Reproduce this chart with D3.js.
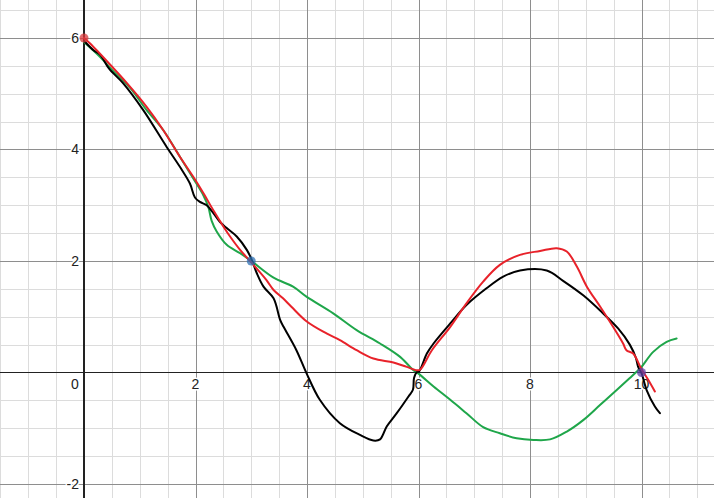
<!DOCTYPE html>
<html>
<head>
<meta charset="utf-8">
<script src="https://cdn.jsdelivr.net/npm/d3@7/dist/d3.min.js"></script>
<style>
html,body{margin:0;padding:0;background:#fff;}
svg{display:block;}
</style>
</head>
<body>
<svg id="chart" width="714" height="498"></svg>
<script>
// ---- data ----
const xTicks = [0, 2, 4, 6, 8, 10];
const yTicks = [-2, 2, 4, 6];
const tickLabelsX = ["0", "2", "4", "6", "8", "10"];
const tickLabelsY = ["-2", "2", "4", "6"];

const blackX = [0, 0.17, 0.29, 0.45, 0.70, 1.06, 1.48, 1.72, 1.90, 1.99, 2.08, 2.20, 2.32, 2.44, 2.56, 2.74, 2.92, 3.01, 3.10, 3.22, 3.40, 3.52, 3.58, 3.81, 3.99, 4.23, 4.59, 4.95, 5.19, 5.31, 5.43, 5.61, 5.82, 5.90, 5.92, 5.97, 6.01, 6.15, 6.27, 6.57, 6.86, 7.22, 7.52, 7.82, 8.30, 8.60, 8.96, 9.29, 9.58, 9.79, 9.90, 9.94, 10.0, 10.09, 10.24, 10.33];
const blackY = [5.95, 5.78, 5.70, 5.45, 5.19, 4.71, 4.05, 3.69, 3.39, 3.14, 3.06, 3.00, 2.86, 2.70, 2.59, 2.44, 2.20, 2.02, 1.78, 1.54, 1.33, 0.94, 0.82, 0.40, -0.01, -0.49, -0.91, -1.12, -1.22, -1.20, -0.97, -0.73, -0.43, -0.31, -0.10, 0.01, 0.02, 0.34, 0.52, 0.88, 1.21, 1.51, 1.72, 1.83, 1.83, 1.64, 1.38, 1.08, 0.79, 0.50, 0.26, 0.10, -0.01, -0.31, -0.61, -0.73];

const redX = [0, 0.11, 0.47, 0.77, 1.12, 1.42, 1.72, 1.96, 2.14, 2.32, 2.50, 2.62, 2.80, 3.04, 3.27, 3.40, 3.57, 3.72, 3.99, 4.35, 4.59, 4.89, 5.19, 5.55, 5.79, 5.97, 6.03, 6.24, 6.57, 6.86, 7.16, 7.46, 7.82, 8.18, 8.48, 8.66, 8.84, 9.02, 9.26, 9.49, 9.67, 9.73, 9.85, 10.0, 10.12, 10.24];
const redY = [6.00, 5.90, 5.52, 5.19, 4.77, 4.35, 3.87, 3.51, 3.22, 2.91, 2.62, 2.44, 2.20, 1.93, 1.66, 1.48, 1.33, 1.18, 0.92, 0.70, 0.58, 0.40, 0.25, 0.18, 0.10, 0.04, 0.05, 0.40, 0.82, 1.24, 1.63, 1.93, 2.11, 2.18, 2.23, 2.17, 1.90, 1.54, 1.18, 0.82, 0.52, 0.40, 0.34, 0.06, -0.13, -0.34];

const greenX = [0, 0.29, 0.53, 0.83, 1.12, 1.42, 1.72, 1.96, 2.14, 2.23, 2.29, 2.38, 2.56, 2.80, 3.00, 3.40, 3.75, 3.99, 4.47, 4.89, 5.31, 5.67, 5.91, 6.00, 6.27, 6.57, 6.86, 7.16, 7.46, 7.76, 8.06, 8.36, 8.66, 8.96, 9.26, 9.56, 9.79, 9.94, 10.0, 10.21, 10.45, 10.63];
const greenY = [5.93, 5.66, 5.40, 5.10, 4.71, 4.35, 3.87, 3.48, 3.18, 2.97, 2.72, 2.53, 2.29, 2.14, 2.00, 1.70, 1.54, 1.36, 1.06, 0.76, 0.52, 0.28, 0.04, -0.02, -0.25, -0.49, -0.73, -0.98, -1.09, -1.18, -1.21, -1.20, -1.06, -0.85, -0.58, -0.31, -0.10, 0.04, 0.10, 0.37, 0.55, 0.61];

const pointsX = [0, 3, 10];
const pointsY = [6, 2, 0];
const pointColors = ["#d9393c", "#2d70b3", "#6042a6"];

// ---- layout ----
const W = 714, H = 498;
const unit = 55.75, ox = 84, oy = 372.5;
const x = d3.scaleLinear().domain([-ox / unit, (W - ox) / unit]).range([0, W]);
const y = d3.scaleLinear().domain([oy / unit, -(H - oy) / unit]).range([0, H]);

const svg = d3.select("#chart");

// grid
const minorX = d3.range(-1.5, 11.51, 0.5).filter(v => Math.abs(v % 2) > 1e-6);
const minorY = d3.range(-2.5, 7.01, 0.5).filter(v => Math.abs(v % 2) > 1e-6);
const majorX = d3.range(-2, 12.01, 2).filter(v => v !== 0);
const majorY = d3.range(-4, 8.01, 2).filter(v => v !== 0);

const g = svg.append("g").attr("shape-rendering", "crispEdges");
g.selectAll(".mx").data(minorX).join("line")
  .attr("x1", d => Math.round(x(d)) + 0.5).attr("x2", d => Math.round(x(d)) + 0.5)
  .attr("y1", 0).attr("y2", H).attr("stroke", "#dcdcdc").attr("stroke-width", 1);
g.selectAll(".my").data(minorY).join("line")
  .attr("y1", d => Math.round(y(d)) + 0.5).attr("y2", d => Math.round(y(d)) + 0.5)
  .attr("x1", 0).attr("x2", W).attr("stroke", "#dcdcdc").attr("stroke-width", 1);
g.selectAll(".Mx").data(majorX).join("line")
  .attr("x1", d => Math.round(x(d)) + 0.5).attr("x2", d => Math.round(x(d)) + 0.5)
  .attr("y1", 0).attr("y2", H).attr("stroke", "#8e8e8e").attr("stroke-width", 1);
g.selectAll(".My").data(majorY).join("line")
  .attr("y1", d => Math.round(y(d)) + 0.5).attr("y2", d => Math.round(y(d)) + 0.5)
  .attr("x1", 0).attr("x2", W).attr("stroke", "#8e8e8e").attr("stroke-width", 1);

// axes
g.append("line").attr("x1", 0).attr("x2", W).attr("y1", y(0)).attr("y2", y(0))
  .attr("stroke", "#222").attr("stroke-width", 1.5);
g.append("line").attr("y1", 0).attr("y2", H).attr("x1", x(0)).attr("x2", x(0))
  .attr("stroke", "#222").attr("stroke-width", 1.5);

// tick labels
const lab = svg.append("g").attr("font-family", "Liberation Sans, Arial, sans-serif")
  .attr("font-size", 14).attr("fill", "#222");
xTicks.forEach((v, i) => {
  const t = lab.append("text")
    .attr("x", v === 0 ? x(0) - 9 : x(v))
    .attr("y", y(0) + 12)
    .attr("dy", "0.35em")
    .attr("text-anchor", "middle")
    .text(tickLabelsX[i]);
  t.clone(true).lower().attr("stroke", "#fff").attr("stroke-width", 3).attr("stroke-linejoin", "round");
});
yTicks.forEach((v, i) => {
  const t = lab.append("text")
    .attr("x", x(0) - 5)
    .attr("y", y(v))
    .attr("dy", "0.35em")
    .attr("text-anchor", "end")
    .text(tickLabelsY[i]);
  t.clone(true).lower().attr("stroke", "#fff").attr("stroke-width", 3).attr("stroke-linejoin", "round");
});

// curves
const line = d3.line().curve(d3.curveCatmullRom.alpha(0.5)).x(d => x(d[0])).y(d => y(d[1]));
const series = [
  { xs: greenX, ys: greenY, color: "#1fa64a" },
  { xs: blackX, ys: blackY, color: "#000000" },
  { xs: redX, ys: redY, color: "#e8222a" }
];
series.forEach(s => {
  svg.append("path")
    .datum(d3.zip(s.xs, s.ys))
    .attr("d", line)
    .attr("fill", "none")
    .attr("stroke", s.color)
    .attr("stroke-width", 2)
    .attr("stroke-linejoin", "round")
    .attr("stroke-linecap", "round");
});

// points
svg.selectAll(".pt").data(d3.zip(pointsX, pointsY, pointColors)).join("circle")
  .attr("cx", d => x(d[0])).attr("cy", d => y(d[1])).attr("r", 4.5)
  .attr("fill", d => d[2]).attr("fill-opacity", 0.75);
</script>
</body>
</html>
